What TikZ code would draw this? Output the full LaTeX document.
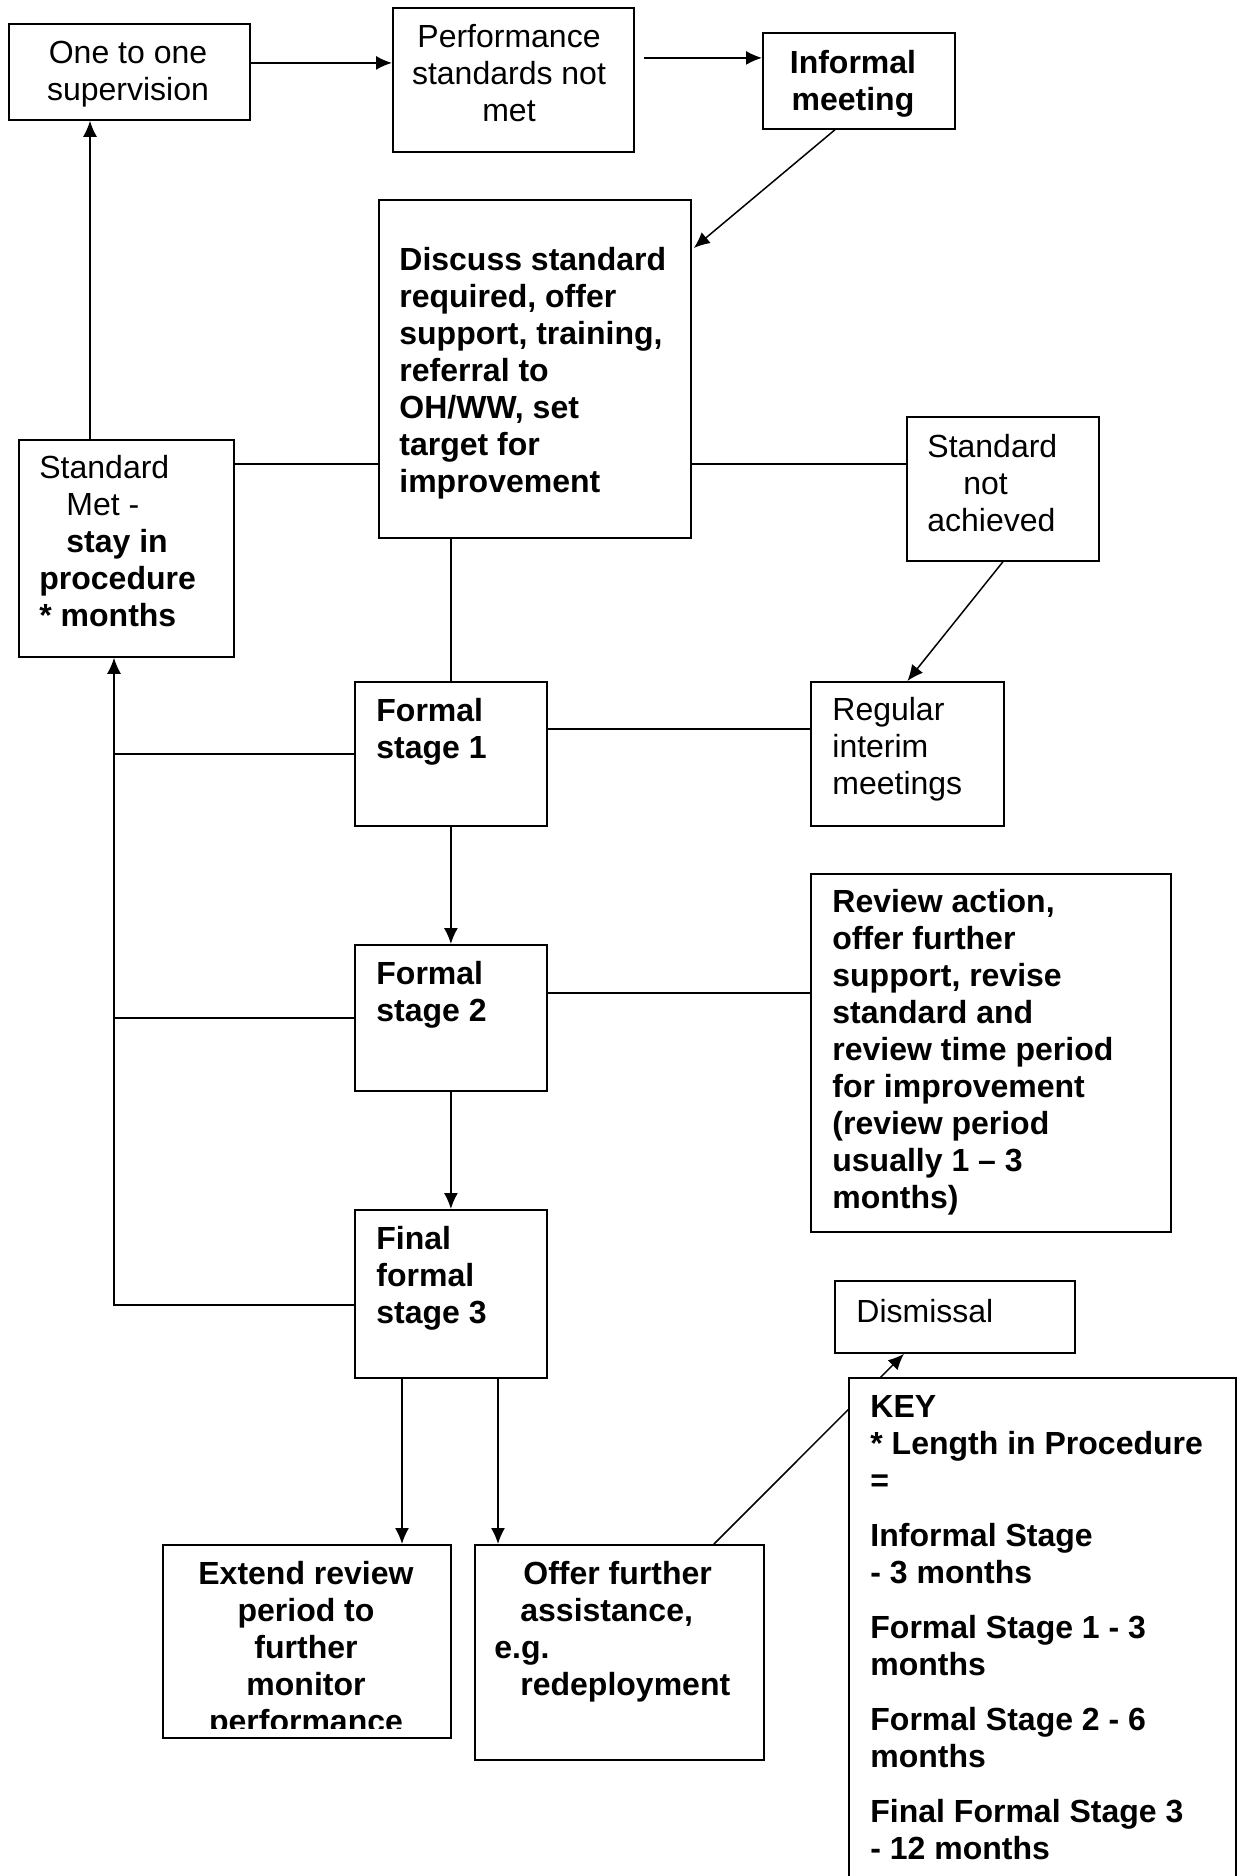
\documentclass[tikz,border=0pt]{standalone}
\usepackage{fontspec}
\setmainfont{Liberation Sans}
\usetikzlibrary{arrows.meta,calc}
\newcommand{\fst}{\rule{0pt}{13pt}}
\begin{document}
\begin{tikzpicture}[x=0.5pt,y=-0.5pt,
  box/.style={draw,line width=0.9pt,rectangle,inner sep=0pt,anchor=north west,fill=white},
  txt/.style={inner sep=0pt,font=\fontsize{16}{18.5}\selectfont,align=left,anchor=north west},
  txtb/.style={txt,font=\fontsize{16}{18.5}\selectfont\bfseries},
  link/.style={line width=0.75pt},
  arr/.style={link,-{Latex[length=8pt,width=7pt]}}]
\path[use as bounding box] (0,0) rectangle (1237,1876);
\clip (0,0) rectangle (1237,1876);
\fill[white] (0,0) rectangle (1237,1876);

% boxes
\node[box,minimum width=120.5pt,minimum height=48pt] (one) at (8,23) {};
\node[box,minimum width=120.5pt,minimum height=72pt] (perf) at (392,7) {};
\node[box,minimum width=96pt,minimum height=48pt] (inf) at (762,32) {};
\node[box,minimum width=156pt,minimum height=169pt] (disc) at (378,199) {};
\node[box,minimum width=107.5pt,minimum height=108.5pt] (met) at (18,439) {};
\node[box,minimum width=96pt,minimum height=72pt] (sna) at (906,416) {};
\node[box,minimum width=96pt,minimum height=72pt] (f1) at (354,681) {};
\node[box,minimum width=96.5pt,minimum height=72pt] (rim) at (810,681) {};
\node[box,minimum width=180pt,minimum height=179pt] (rev) at (810,873) {};
\node[box,minimum width=96pt,minimum height=73pt] (f2) at (354,944) {};
\node[box,minimum width=96pt,minimum height=84pt] (f3) at (354,1209) {};
\node[box,minimum width=120pt,minimum height=36pt] (dis) at (834,1280) {};
\node[box,minimum width=144pt,minimum height=96.5pt] (ext) at (162,1544) {};
\node[box,minimum width=144.5pt,minimum height=107.5pt] (off) at (474,1544) {};

% helper coordinates for connector ends
\coordinate (a1) at ($(met.north west)+(72,0)$);
\coordinate (l1) at ($(met.north east)+(0,25)$);
\coordinate (l2) at ($(sna.north west)+(0,48)$);
\coordinate (l3) at ($(f1.north east)+(0,48)$);
\coordinate (l4) at ($(f2.north east)+(0,49)$);
\coordinate (trunk) at ($(met.south west)+(96,0)$);
\coordinate (b3) at ($(f3.north west)+(0,96)$);
\coordinate (d1) at ($(f3.south west)+(48,0)$);
\coordinate (d2) at ($(f3.south west)+(144,0)$);
\coordinate (o1) at ($(off.north west)+(240,0)$);
\coordinate (o2) at ($(dis.south west)+(70,0)$);

% connectors
\draw[arr] ([yshift=4.5pt]one.east) -- ([yshift=4.5pt]one.east -| perf.west);
\draw[arr] ($(perf.east |- inf.west)+(9,-23)$) -- ($(inf.west)+(0,-23)$);
\draw[arr] ($(inf.south)+(-24,0)$) -- ($(disc.north east)+(2,49)$);
\draw[arr] (a1) -- (a1 |- one.south);
\draw[link] (l1) -- (l1 -| disc.west);
\draw[link] (l2) -- (l2 -| disc.east);
\draw[arr] (sna.south) -- (rim.north);
\draw[link] (f1.north |- disc.south) -- (f1.north);
\draw[link] (l3) -- (l3 -| rim.west);
\draw[arr] (b3) -| (trunk);
\draw[link] (f1.west) -- (f1.west -| trunk);
\draw[link] (f2.west) -- (f2.west -| trunk);
\draw[arr] (f1.south) -- (f2.north);
\draw[link] (l4) -- (l4 -| rev.west);
\draw[arr] (f2.south) -- (f3.north);
\draw[arr] (d1) -- (d1 |- ext.north);
\draw[arr] (d2) -- (d2 |- off.north);
\draw[arr] (o1) -- (o2);

% key box drawn over the connector
\node[box,minimum width=193.5pt,minimum height=261.5pt] (key) at (848,1377) {};

% texts
\node[txt,align=center,anchor=north] (t1) at (128,37) {\fst One to one\\supervision};
\node[txt,align=center,anchor=north] (t2) at (509,21) {\fst Performance\\standards not\\met};
\node[txtb,align=center,anchor=north] (t3) at (853,47) {\fst Informal\\meeting};
\node[txtb] (t4) at (399,244) {\fst Discuss standard\\required, offer\\support, training,\\referral to\\OH/WW, set\\target for\\improvement};
\node[txt] (t5) at (39,452) {\fst Standard\\\hspace*{13.5pt}Met -\\\hspace*{13.5pt}\textbf{stay in}\\\textbf{procedure}\\\textbf{* months}};
\node[txt] (t6) at (927,431) {\fst Standard\\\hspace*{18pt}not\\achieved};
\node[txtb] (t7) at (376,695) {\fst Formal\\stage 1};
\node[txt] (t8) at (832,694) {\fst Regular\\interim\\meetings};
\node[txtb] (t9) at (832,886) {\fst Review action,\\offer further\\support, revise\\standard and\\review time period\\for improvement\\(review period\\usually 1 – 3\\months)};
\node[txtb] (t10) at (376,958) {\fst Formal\\stage 2};
\node[txtb] (t11) at (376,1223) {\fst Final\\formal\\stage 3};
\node[txt] (t12) at (856,1296) {\fst Dismissal};
\node[txtb] (t13) at (870,1391) {\fst KEY\\{}* Length in Procedure\\{}=\\[9pt]Informal Stage\\{}- 3 months\\[9pt]Formal Stage 1 - 3\\months\\[9pt]Formal Stage 2 - 6\\months\\[9pt]Final Formal Stage 3\\{}- 12 months};
\begin{scope}
\clip (ext.north west) rectangle ($(ext.south east)+(0,-10)$);
\node[txtb,align=center,anchor=north] (t14) at (306,1558) {\fst Extend review\\period to\\further\\monitor\\performance};
\end{scope}
\node[txtb] (t15) at (494,1558) {\fst\hspace*{14.5pt}Offer further\\\hspace*{13pt}assistance,\\e.g.\\\hspace*{13pt}redeployment};
\end{tikzpicture}
\end{document}
